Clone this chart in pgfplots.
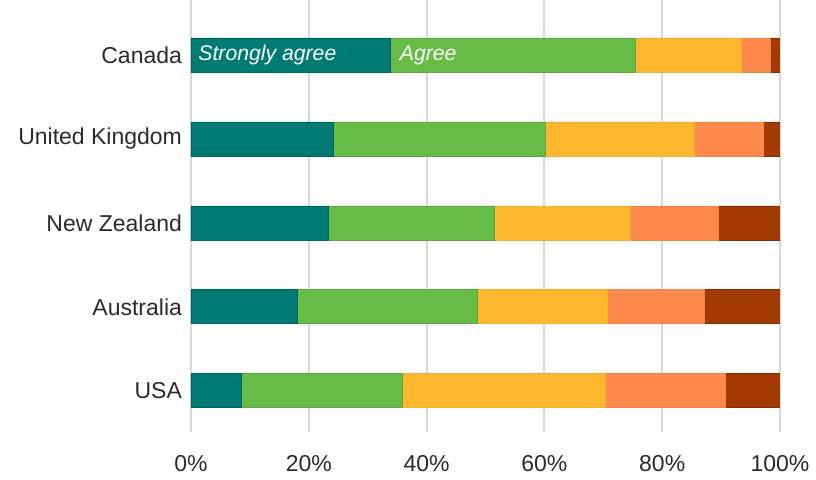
\documentclass[border=0pt]{standalone}
\usepackage{pgfplots}
\pgfplotsset{compat=1.18}
\usepackage{fontspec}
\setmainfont{Liberation Sans}
\definecolor{sagree}{HTML}{007B73}
\definecolor{agree}{HTML}{67BC47}
\definecolor{neutral}{HTML}{FDB830}
\definecolor{disagree}{HTML}{FF8A4C}
\definecolor{sdisagree}{HTML}{A33A00}
\definecolor{txt}{HTML}{2B2B2B}
\begin{document}
\begin{tikzpicture}
\begin{axis}[
    at={(0,0)}, anchor=south west,
    scale only axis,
    width=294.5pt, height=216pt,
    xbar stacked,
    bar width=17pt,
    xmin=0, xmax=100,
    ymin=-0.49, ymax=4.655,
    xtick={0,20,40,60,80,100},
    xticklabel={\pgfmathprintnumber{\tick}\%},
    ytick={0,1,2,3,4},
    yticklabels={USA, Australia, New Zealand, United Kingdom, Canada},
    xmajorgrids,
    grid style={color=black!15, line width=1pt},
    axis line style={draw=none},
    major tick style={draw=none},
    tick label style={font=\fontsize{11.5}{13}\selectfont, text=txt},
    /pgf/number format/assume math mode=true,
    xticklabel style={yshift=-8pt},
    yticklabel style={xshift=-1pt},
]
\addplot[fill=sagree, draw=sagree!80!black, line width=0.4pt] coordinates {
    (8.5,0) (18.0,1) (23.3,2) (24.2,3) (33.8,4)};
\addplot[fill=agree, draw=agree!90!black, line width=0.4pt] coordinates {
    (27.4,0) (30.6,1) (28.2,2) (35.9,3) (41.7,4)};
\addplot[fill=neutral, draw=neutral!95!black, line width=0.4pt] coordinates {
    (34.5,0) (22.1,1) (23.1,2) (25.3,3) (18.0,4)};
\addplot[fill=disagree, draw=disagree!95!black, line width=0.4pt] coordinates {
    (20.4,0) (16.5,1) (15.0,2) (11.8,3) (4.9,4)};
\addplot[fill=sdisagree, draw=sdisagree!80!black, line width=0.4pt] coordinates {
    (9.2,0) (12.8,1) (10.4,2) (2.8,3) (1.6,4)};
\coordinate (lsa) at (axis cs:1.2,4);
\coordinate (lag) at (axis cs:35.4,4);
\end{axis}
\node[anchor=west, text=white, inner sep=0pt, font=\fontsize{10.6}{12}\selectfont\itshape]
    at (lsa) {Strongly agree};
\node[anchor=west, text=white, inner sep=0pt, font=\fontsize{10.6}{12}\selectfont\itshape]
    at (lag) {Agree};
\pgfresetboundingbox
\path[use as bounding box] (-95.5pt,-23.5pt) rectangle (312.5pt,216pt);
\end{tikzpicture}
\end{document}
